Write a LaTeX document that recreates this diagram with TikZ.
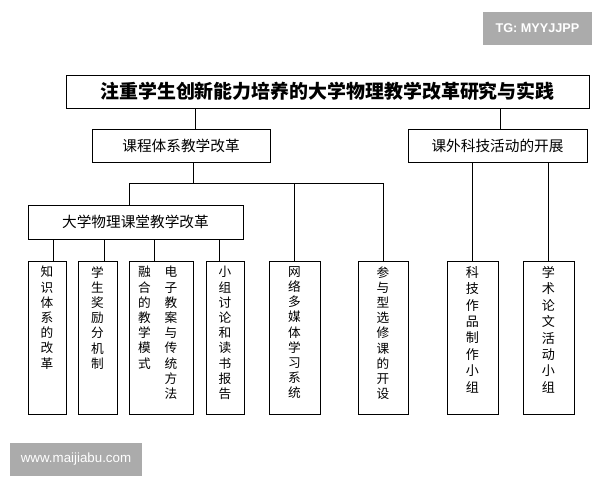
\documentclass[tikz,border=0pt]{standalone}
\usepackage{fontspec}
\usepackage{tikz}
\newfontfamily\cjk{Noto Sans CJK SC}
\newfontfamily\wmfont{Liberation Sans}

\tikzset{
  box/.style={draw,rectangle,line width=0.65pt,inner sep=0pt},
  leafbox/.style={box,minimum height=114.75pt,minimum width=#1},
  vtxt/.style={anchor=north,yshift=-4pt,align=center,inner sep=0pt,
    font=\cjk\fontsize{9.5}{11.4}\selectfont},
  wide vtxt/.style={vtxt,font=\cjk\fontsize{9.8}{12.3}\selectfont},
  mark box/.style={fill=black!33,text=white,inner sep=0pt,font=\wmfont\fontsize{9.5}{11}\selectfont}
}

\begin{document}
\begin{tikzpicture}[x=0.75pt,y=-0.75pt,line width=0.65pt]
\useasboundingbox (0,0) rectangle (600,480);

%\draw [thick,red,dashed] (0,0) rectangle (600,480);
\node [mark box,minimum width=81.75pt,minimum height=24.75pt,font=\wmfont\bfseries\fontsize{9.5}{11}\selectfont] (tg) at(537.5,28.5){TG: MYYJJPP};
\node [mark box,minimum width=99pt,minimum height=24.75pt,font=\wmfont\fontsize{10}{11}\selectfont] (www) at(76,459.5){www.maijiabu.com};

\node [box,minimum width=392.25pt,minimum height=24.75pt,font=\cjk\bfseries\fontsize{14.2}{16}\selectfont] (title) at(327.5,91.5){注重学生创新能力培养的大学物理教学改革研究与实践};

\node [box,minimum width=133.5pt,minimum height=24.75pt,font=\cjk\fontsize{11}{13}\selectfont] (kc) at(181,145.5){课程体系教学改革};
\node [box,minimum width=134.25pt,minimum height=24.75pt,font=\cjk\fontsize{11}{13}\selectfont] (kw) at(497.5,145.5){课外科技活动的开展};

\node [box,minimum width=161.25pt,minimum height=25.5pt,font=\cjk\fontsize{11}{13}\selectfont] (dx) at(135.5,222){大学物理课堂教学改革};

% leaves
\node [leafbox=28.5pt,label={[vtxt]north:知\\识\\体\\系\\的\\改\\革}] (zs) at(47,337.5){};
\node [leafbox=29.25pt,label={[vtxt]north:学\\生\\奖\\励\\分\\机\\制}] (xs) at(97.5,337.5){};
\node [leafbox=48pt,label={[vtxt,xshift=-12.4pt]north:融\\合\\的\\教\\学\\模\\式},
  label={[vtxt,xshift=7.5pt]north:电\\子\\教\\案\\与\\传\\统\\方\\法}] (dz) at(161,337.5){};
\node [leafbox=28.5pt,label={[vtxt]north:小\\组\\讨\\论\\和\\读\\书\\报\\告}] (xz) at(225,337.5){};
\node [leafbox=38.25pt,label={[vtxt]north:网\\络\\多\\媒\\体\\学\\习\\系\\统}] (wl) at(294.5,337.5){};
\node [leafbox=37.5pt,label={[vtxt]north:参\\与\\型\\选\\修\\课\\的\\开\\设}] (cy) at(383,337.5){};
\node [leafbox=38.25pt,label={[wide vtxt]north:科\\技\\作\\品\\制\\作\\小\\组}] (kj) at(472.5,337.5){};
\node [leafbox=38.25pt,label={[wide vtxt]north:学\\术\\论\\文\\活\\动\\小\\组}] (xl) at(548.5,337.5){};

% title -> second level
\coordinate (tkc) at ([xshift=10.5pt]kc.north);
\coordinate (tkw) at ([xshift=1.9pt]kw.north);
\draw (tkc |- title.south) -- (tkc);
\draw (tkw |- title.south) -- (tkw);

% bus under kc
\coordinate (busL) at (129,183);
\coordinate (busR) at (383,183);
\coordinate (kcd) at ([xshift=9pt]kc.south);
\draw (kcd) -- (kcd |- busL);
\draw (busL) -- (busR);
\draw (busL) -- (busL |- dx.north);
\draw (busL -| wl.north) -- (wl.north);
\draw (busR) -- (cy.north);

% dx -> leaves
\coordinate (d1) at ([xshift=4.5pt]zs.north);
\coordinate (d2) at ([xshift=4.9pt]xs.north);
\coordinate (d3) at ([xshift=-5.25pt]dz.north);
\coordinate (d4) at ([xshift=-4.5pt]xz.north);
\draw (d1 |- dx.south) -- (d1);
\draw (d2 |- dx.south) -- (d2);
\draw (d3 |- dx.south) -- (d3);
\draw (d4 |- dx.south) -- (d4);

% kw -> leaves
\draw (kj.north |- kw.south) -- (kj.north);
\draw (xl.north |- kw.south) -- (xl.north);

\end{tikzpicture}
\end{document}
